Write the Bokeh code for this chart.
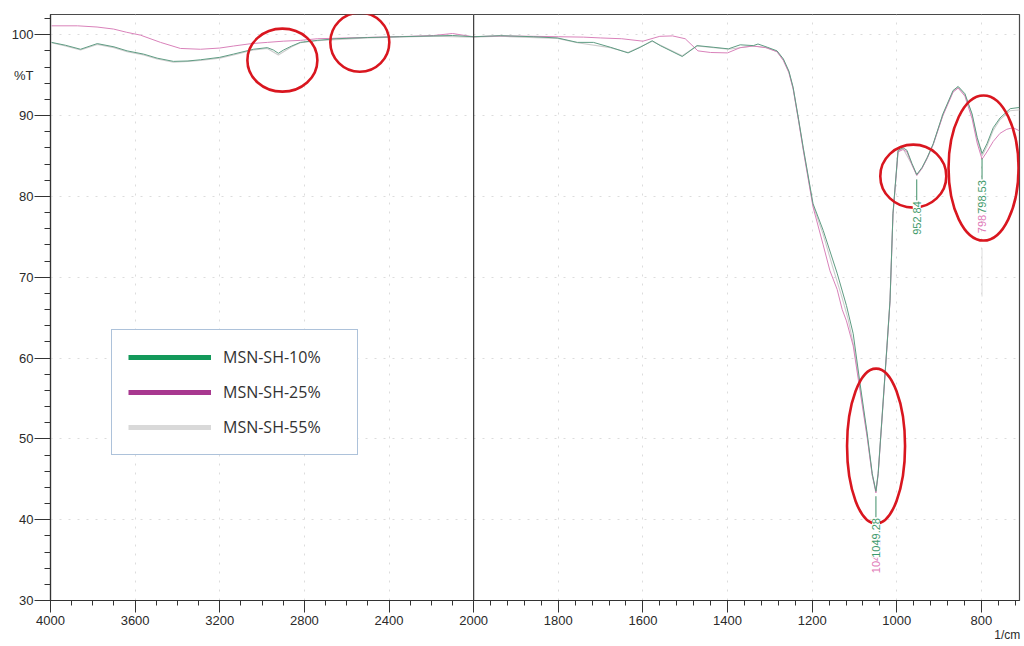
import numpy as np
from bokeh.plotting import figure
from bokeh.models import Range1d, FixedTicker, Span, Label, Legend, LegendItem, LinearAxis
from bokeh.embed import file_html
from bokeh.resources import INLINE

# ---- FTIR spectra: wavenumber (1/cm) and transmittance (%T) ----
wn_10 = [3995, 3930, 3858, 3779, 3700, 3638, 3560, 3496, 3419, 3350, 3291, 3200,
         3135, 3041, 2975, 2946, 2923, 2899, 2860, 2819, 2739, 2650, 2502, 2350,
         2191, 2100, 2002, 1937, 1859, 1802, 1755, 1717, 1677, 1635, 1606, 1578,
         1559, 1507, 1472, 1434, 1398, 1370, 1339, 1328, 1306, 1283, 1268, 1255,
         1245, 1232, 1221, 1198, 1174, 1141, 1119, 1103, 1087, 1070, 1058, 1049.28,
         1044, 1032, 1023, 1016, 1009, 997, 985, 976, 964, 952.84, 940, 928, 914,
         891, 867, 855, 839, 822, 810, 798.53, 787, 772, 756, 732, 710]
t_10 = [99.05, 98.7, 98.2, 98.9, 98.5, 98.0, 97.6, 97.1, 96.7, 96.75, 96.9, 97.2,
        97.6, 98.2, 98.4, 98.1, 97.7, 98.1, 98.6, 99.05, 99.3, 99.5, 99.65, 99.75,
        99.85, 99.9, 99.75, 99.88, 99.75, 99.6, 99.05, 99.05, 98.45, 97.75, 98.45, 99.25,
        98.65, 97.3, 98.65, 98.45, 98.25, 98.75, 98.65, 98.85, 98.45, 98.0, 97.0, 95.5,
        93.5, 89.5, 86.0, 79.1, 75.8, 70.5, 66.5, 63.0, 56.9, 50.7, 45.7, 43.5,
        45.7, 54.8, 61.6, 67.1, 77.9, 85.7, 86.0, 85.7, 84.05, 82.7, 83.6, 84.8, 86.5,
        90.2, 93.1, 93.6, 92.7, 90.2, 87.3, 85.3, 86.5, 88.5, 89.7, 90.85, 91.0]

wn_25 = [3995, 3872, 3780, 3702, 3640, 3575, 3480, 3386, 3291, 3200, 3135, 3050,
         2975, 2900, 2819, 2739, 2600, 2450, 2300, 2190, 2100, 2040, 2002, 1937,
         1860, 1800, 1740, 1700, 1650, 1600, 1560, 1530, 1500, 1470, 1440, 1400,
         1370, 1340, 1310, 1283, 1268, 1255, 1245, 1232, 1221, 1198, 1174, 1158,
         1141, 1129, 1119, 1103, 1087, 1070, 1058, 1049.28, 1044, 1032, 1023, 1016,
         1009, 997, 985, 976, 964, 952.84, 940, 928, 914, 891, 867, 855, 839, 822,
         810, 798.53, 787, 772, 756, 740, 725, 710]
t_25 = [101.1, 101.1, 100.95, 100.7, 100.3, 99.95, 99.05, 98.3, 98.2, 98.35, 98.6, 98.9,
        99.05, 99.2, 99.3, 99.5, 99.6, 99.7, 99.8, 99.9, 100.15, 99.9, 99.75, 99.85,
        99.8, 99.75, 99.7, 99.6, 99.5, 99.2, 99.8, 99.85, 99.5, 98.0, 97.8, 97.75,
        98.4, 98.6, 98.4, 97.9, 96.8, 95.3, 93.3, 89.3, 85.7, 78.7, 74.0, 70.8,
        68.5, 66.0, 64.6, 61.5, 56.0, 50.2, 45.5, 43.3, 45.6, 54.6, 61.5, 67.0,
        77.7, 85.5, 85.8, 85.5, 83.9, 82.6, 83.5, 84.7, 86.4, 90.0, 92.9, 93.4, 92.4,
        89.6, 86.6, 84.6, 85.5, 86.8, 87.8, 88.3, 88.5, 88.1]

wn_55 = [3995, 3930, 3858, 3779, 3700, 3638, 3560, 3496, 3419, 3350, 3291, 3200,
         3135, 3041, 2975, 2923, 2860, 2819, 2739, 2502, 2191, 2002, 1937, 1802,
         1755, 1677, 1635, 1578, 1507, 1472, 1398, 1339, 1306, 1283, 1268, 1255,
         1245, 1232, 1221, 1198, 1174, 1150, 1130, 1115, 1100, 1087, 1070, 1058,
         1049.28, 1044, 1032, 1023, 1016, 1009, 997, 985, 964, 952.84, 940, 914,
         891, 867, 855, 839, 822, 810, 798.53, 787, 772, 756, 732, 710]
t_55 = [99.0, 98.6, 98.1, 98.8, 98.4, 97.9, 97.5, 97.0, 96.6, 96.7, 96.8, 97.1,
        97.5, 98.1, 98.3, 97.5, 98.5, 99.0, 99.25, 99.6, 99.8, 99.7, 99.8, 99.55,
        99.0, 98.4, 97.8, 99.2, 97.4, 98.6, 98.2, 98.6, 98.4, 97.9, 96.9, 95.4,
        93.4, 89.4, 85.9, 78.9, 75.3, 71.0, 67.6, 64.8, 61.0, 56.4, 50.4, 45.5,
        43.6, 45.8, 54.9, 61.7, 67.2, 77.8, 85.6, 85.9, 83.9, 82.6, 83.5, 86.4,
        90.1, 93.0, 93.5, 92.6, 90.0, 87.1, 85.0, 86.2, 88.2, 89.5, 90.6, 90.7]

# labelled band positions
peak_wn_10 = [1049.28, 952.84, 798.53]
peak_t_10 = [43.5, 82.7, 85.3]
peak_wn_25 = [1049.28, 798.53]
peak_t_25 = [43.3, 84.6]

# axis ticks
x_major = [4000, 3600, 3200, 2800, 2400, 2000, 1800, 1600, 1400, 1200, 1000, 800]
x_minor = list(range(4000, 2000, -100)) + list(range(2000, 700, -40))
y_major = [30, 40, 50, 60, 70, 80, 90, 100]
y_minor = list(range(30, 104, 2))
y_unit, y_unit_at = "%T", 95.0
x_unit = "1/cm"

series = [("MSN-SH-10%", "#13995a"), ("MSN-SH-25%", "#a8388f"), ("MSN-SH-55%", "#d9d9d9")]

# spectrum colours on the chart (thin, light traces)
trace_10 = "#5f9c83"
trace_25 = "#d982ba"
trace_55 = "#cdcdcd"


def to_axis(v):
    """Piecewise wavenumber axis: 1 unit per 1/cm above 2000, doubled below."""
    v = np.asarray(v, dtype=float)
    return np.where(v >= 2000, 4000 - v, 6000 - 2 * v)


X_LEFT, X_RIGHT = 4000, 710
Y_LOW, Y_HIGH = 30, 102.5

p = figure(width=1024, height=646, frame_width=969, frame_height=586,
           output_backend="svg", toolbar_location=None,
           x_range=Range1d(float(to_axis(X_LEFT)), float(to_axis(X_RIGHT))),
           y_range=Range1d(Y_LOW, Y_HIGH),
           min_border_left=50, min_border_right=5, min_border_top=14, min_border_bottom=46)
p.background_fill_color = "white"
p.border_fill_color = "white"
p.outline_line_color = "#4a4a4a"
p.outline_line_width = 1.2

ax_font = "Liberation Sans"
ink = "#2a2a2a"

# x axis: ticks + wavenumber labels
xax = p.xaxis[0]
xax.ticker = FixedTicker(ticks=[float(t) for t in to_axis(x_major)],
                         minor_ticks=[float(t) for t in to_axis(x_minor)])
xax.major_label_overrides = {float(t): str(v) for t, v in zip(to_axis(x_major), x_major)}
xax.major_tick_out = 12
xax.minor_tick_out = 5
xax.major_label_standoff = 3

# y axis next to the frame: tick marks only (its labels are not painted)
yax = p.yaxis[0]
yax.ticker = FixedTicker(ticks=y_major, minor_ticks=y_minor)
yax.major_tick_out = 16
yax.minor_tick_out = 6
yax.major_label_standoff = 0
yax.major_label_text_font_size = "0px"

for ax in (xax, yax):
    ax.axis_line_color = "#333333"
    ax.axis_line_width = 1.2
    ax.major_tick_line_color = "#333333"
    ax.minor_tick_line_color = "#333333"
    ax.major_tick_in = 0
    ax.minor_tick_in = 0
    ax.major_label_text_font = ax_font
    ax.major_label_text_color = ink
xax.major_label_text_font_size = "13px"
yax.major_label_text_color = None

# outer y axis: %T numbers and the unit caption
ylab = LinearAxis(ticker=FixedTicker(ticks=[float(v) for v in y_major] + [y_unit_at], minor_ticks=[]),
                  major_label_overrides={y_unit_at: y_unit},
                  axis_line_color=None, major_tick_line_color=None, minor_tick_line_color=None,
                  major_tick_out=0, minor_tick_out=0, major_tick_in=0, minor_tick_in=0,
                  major_label_standoff=1, major_label_text_font=ax_font,
                  major_label_text_font_size="13px", major_label_text_color=ink)
p.add_layout(ylab, "left")

# outer x axis: unit caption at the right end
x_unit_at = float(to_axis(X_RIGHT)) - 58.0
xlab = LinearAxis(ticker=FixedTicker(ticks=[x_unit_at], minor_ticks=[]),
                  major_label_overrides={x_unit_at: x_unit},
                  axis_line_color=None, major_tick_line_color=None, minor_tick_line_color=None,
                  major_tick_out=0, minor_tick_out=0, major_tick_in=0, minor_tick_in=0,
                  major_label_standoff=0, major_label_text_font=ax_font,
                  major_label_text_font_size="12px", major_label_text_color=ink)
p.add_layout(xlab, "below")

p.xgrid.ticker = xax.ticker
p.ygrid.ticker = yax.ticker
p.xgrid.grid_line_color = "#dcdcdc"
p.xgrid.grid_line_dash = "2 7"
p.ygrid.grid_line_color = "#dcdcdc"
p.ygrid.grid_line_dash = "2 7"

# break marker at 2000 1/cm
p.add_layout(Span(location=float(to_axis(2000)), dimension="height",
                  line_color="#3a3a3a", line_width=1.2))

# spectra
p.line(to_axis(wn_55), t_55, line_color=trace_55, line_width=1.1)
p.line(to_axis(wn_25), t_25, line_color=trace_25, line_width=1.0)
p.line(to_axis(wn_10), t_10, line_color=trace_10, line_width=1.0)

# band labels: tick line below each minimum, rotated wavenumber text
px_t10 = to_axis(peak_wn_10)
p.segment(x0=px_t10, y0=np.array(peak_t_10) - 0.6, x1=px_t10, y1=np.array(peak_t_10) - 3.2,
          line_color="#3f8f68", line_width=1)
p.segment(x0=to_axis(peak_wn_25)[-1:], y0=np.array(peak_t_25[-1:]) - 11.0,
          x1=to_axis(peak_wn_25)[-1:], y1=np.array(peak_t_25[-1:]) - 17.0,
          line_color="#dddddd", line_width=1)
for wn, t in zip(peak_wn_25, peak_t_25):
    p.add_layout(Label(x=float(to_axis(wn)), y=t - 5.0, text=f"{wn:.2f}", angle=np.pi / 2,
                       text_align="right", text_baseline="middle",
                       text_font=ax_font, text_font_size="11px", text_color="#e07ab8"))
for wn, t in zip(peak_wn_10, peak_t_10):
    p.add_layout(Label(x=float(to_axis(wn)), y=t - 3.3, text=f"{wn:.2f}", angle=np.pi / 2,
                       text_align="right", text_baseline="middle",
                       text_font=ax_font, text_font_size="11px", text_color="#3f9a6c",
                       background_fill_color="white", background_fill_alpha=1.0))

# red circles highlighting bands (centre in 1/cm, %T; size in pixels)
ring_wn = [2904, 2538, 1049, 961, 795]
ring_t = [96.85, 99.07, 49.1, 82.5, 83.5]
ring_w = [70, 59, 58, 66, 70]
ring_h = [63, 59, 155, 63, 145]
p.ellipse(x=to_axis(ring_wn), y=ring_t, width=ring_w, height=ring_h,
          width_units="screen", height_units="screen",
          fill_alpha=0, line_color="#d9161f", line_width=2.6)

# legend with thick swatches
items = []
for name, col in series:
    r = p.line(x=[np.nan], y=[np.nan], line_color=col, line_width=5)
    items.append(LegendItem(label=name, renderers=[r]))
legend = Legend(items=items, location=(61, 145), padding=16, spacing=13,
                glyph_width=83, glyph_height=22, label_height=22, label_width=118,
                label_standoff=12, label_text_font="Open Sans", label_text_font_size="16px",
                label_text_color="#333333", border_line_color="#5b86b6",
                border_line_width=1.5, background_fill_color="white",
                background_fill_alpha=1.0, margin=0)
p.add_layout(legend, "center")

open("out.html", "w").write(file_html(p, INLINE))
